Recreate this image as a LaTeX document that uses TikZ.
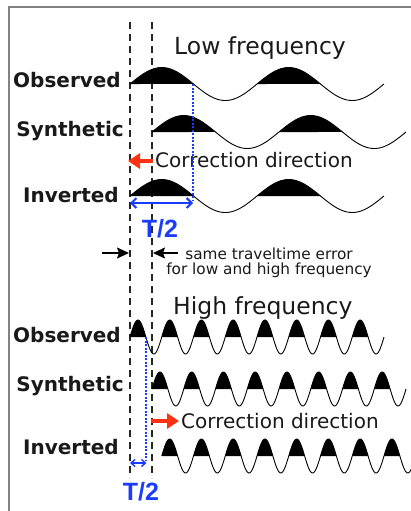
\documentclass[tikz,border=0pt]{standalone}
\usepackage{fontspec}
\setmainfont{DejaVu Sans}
\newfontfamily\halffont{Liberation Sans}
\usetikzlibrary{arrows.meta,positioning}

\definecolor{corrred}{RGB}{255,50,20}
\definecolor{tblue}{RGB}{25,60,255}
\definecolor{framegray}{RGB}{130,130,130}

\begin{document}
\begin{tikzpicture}[
    x=1pt, y=-1pt,
    >=Latex,
    wave/.style={line width=0.9pt, black},
    lobe/.style={fill=black},
    guide/.style={line width=1.3pt, dash pattern=on 7pt off 5pt, black!85},
    corr/.style={-{Triangle[length=12pt, width=15pt]}, line width=4pt, corrred},
    halfT/.style={{Straight Barb[length=5pt, width=10pt]}-{Straight Barb[length=5pt, width=10pt]}, line width=2pt, tblue},
    halfTsmall/.style={{Straight Barb[length=4pt, width=7pt]}-{Straight Barb[length=4pt, width=7pt]}, line width=1.4pt, tblue},
    shiftline/.style={line width=2pt, dash pattern=on 2pt off 1.5pt, tblue},
    errarrow/.style={-{Stealth[length=12pt, width=11pt, inset=2pt]}, line width=1.6pt, black},
    rowlabel/.style={font=\bfseries\fontsize{20}{24}\selectfont, inner sep=0pt, anchor=base east, text=black!90},
    title/.style={font=\fontsize{23.5}{28}\selectfont, inner sep=0pt, anchor=base west, text=black!90},
    corrtext/.style={font=\fontsize{20}{24}\selectfont, inner sep=0pt, anchor=base west, text=black!90},
    note/.style={font=\fontsize{15.3}{15.5}\selectfont, inner sep=0pt, align=center, text=black!90},
    tlabel/.style={font=\halffont\bfseries\fontsize{25}{30}\selectfont, inner sep=0pt, anchor=base, text=tblue}
]

    % --- 1. canvas and frame ---
    \useasboundingbox (0,0) rectangle (411,511);
    \clip (0,0) rectangle (411,511);
    \draw[framegray, line width=1.5pt] (9,520) -- (9,7) -- (420,7);

    % --- 2. dashed guides (observed onset / synthetic onset) ---
    \coordinate (obsTop) at (130,22);
    \coordinate (obsBot) at (130,478);
    \coordinate (synTop) at (152,22);
    \coordinate (synBot) at (152,478);
    \draw[guide] (obsTop) -- (obsBot);
    \draw[guide] (synTop) -- (synBot);

    % --- 3. waveforms ---
    % macro: #1 start x, #2 baseline y, #3 period, #4 periods, #5 amplitude
    \newcommand{\drawWave}[5]{
        \foreach \k in {1,...,#4}{
            \pgfmathsetmacro{\xa}{#1+(\k-1)*#3}
            \pgfmathsetmacro{\xb}{\xa+#3/2}
            \fill[lobe] plot[domain=\xa:\xb, samples=40] (\x,{#2-#5*sin((\x-#1)/#3*360)}) -- cycle;
        }
        \pgfmathsetmacro{\xe}{#1+#4*#3}
        \draw[wave] plot[domain=#1:\xe, samples=241] (\x,{#2-#5*sin((\x-#1)/#3*360)});
    }

    % low frequency
    \drawWave{130}{84}{127}{2}{16.5}
    \drawWave{152}{132}{127}{2}{16.5}
    \drawWave{130}{196}{127}{2}{16.5}

    % high frequency
    \drawWave{130}{337}{31.75}{8}{17}
    \drawWave{152}{389}{31.75}{8}{17}
    \drawWave{161.75}{456}{31.75}{8}{17}

    % --- 4. row labels ---
    \node[rowlabel] (lowObs) at (121,88) {Observed};
    \node[rowlabel] (lowSyn) at (124,136) {Synthetic};
    \node[rowlabel] (lowInv) at (119,202) {Inverted};
    \node[rowlabel] (highObs) at (121,342) {Observed};
    \node[rowlabel] (highSyn) at (124,391) {Synthetic};
    \node[rowlabel] (highInv) at (119,454) {Inverted};

    \node[title] (lowTitle) at (174,55) {Low frequency};
    \node[title] (highTitle) at (173,314) {High frequency};

    % --- 5. correction direction ---
    \node[corrtext] (lowCorr) at (155,167) {Correction direction};
    \coordinate (lowCorrFrom) at (153,161);
    \coordinate (lowCorrTo) at (128,161);
    \draw[corr] (lowCorrFrom) -- (lowCorrTo);

    \node[corrtext] (highCorr) at (181,428) {Correction direction};
    \coordinate (highCorrFrom) at (151,421);
    \coordinate (highCorrTo) at (179,421);
    \draw[corr] (highCorrFrom) -- (highCorrTo);

    % --- 6. half period marks ---
    \coordinate (lowCross) at (193,84);
    \coordinate (lowCrossEnd) at (193,200);
    \draw[shiftline] (lowCross) -- (lowCrossEnd);
    \coordinate (lowHalfL) at (130,203);
    \coordinate (lowHalfR) at (193,203);
    \draw[halfT] (lowHalfL) -- (lowHalfR);
    \node[tlabel] (lowHalf) at (160,237) {T/2};

    \coordinate (highCross) at (146,337);
    \coordinate (highCrossEnd) at (146,461);
    \draw[shiftline] (highCross) -- (highCrossEnd);
    \coordinate (highHalfL) at (130,463);
    \coordinate (highHalfR) at (146.5,463);
    \draw[halfTsmall] (highHalfL) -- (highHalfR);
    \node[tlabel] (highHalf) at (141,500) {T/2};

    % --- 7. traveltime error ---
    \coordinate (errLeft) at (102,253);
    \coordinate (errLeftTip) at (129,253);
    \coordinate (errRight) at (178,253);
    \coordinate (errRightTip) at (153,253);
    \draw[errarrow] (errLeft) -- (errLeftTip);
    \draw[errarrow] (errRight) -- (errRightTip);
    \node[note] (errNote) at (269,263) {same traveltime error\\for low and high frequency};

\end{tikzpicture}
\end{document}
